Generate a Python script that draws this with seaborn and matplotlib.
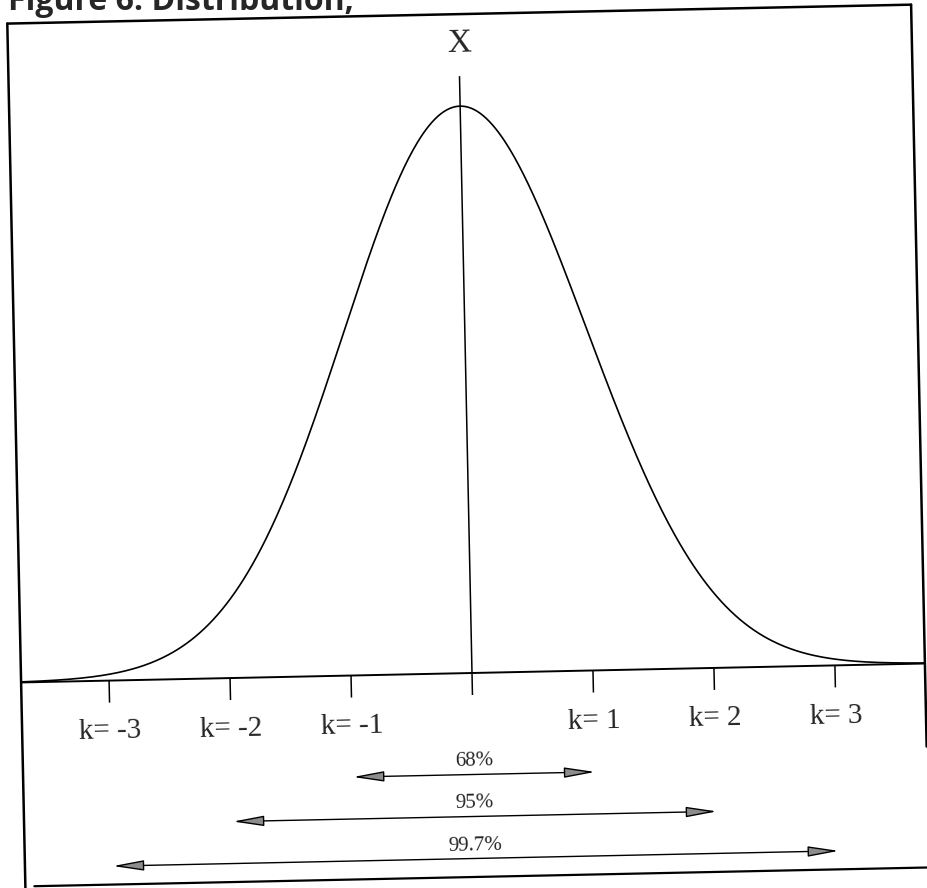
import numpy as np
import matplotlib
matplotlib.use("Agg")
import matplotlib.pyplot as plt
from matplotlib.transforms import Affine2D
import seaborn as sns

# --- chart content ---
mean = 0.0
sd = 1.0
k_values = [-3, -2, -1, 1, 2, 3]
k_labels = ["k= -3", "k= -2", "k= -1", "k= 1", "k= 2", "k= 3"]
interval_k = [1, 2, 3]
interval_labels = ["68%", "95%", "99.7%"]
center_label = "X"
title = "Figure 6: Distribution,"

# --- page geometry (pixels of the scanned page) ---
W, H, DPI = 927, 888, 100
SIGMA_PX = 121          # pixels per k step
BASE_X, BASE_Y = 472, 673   # the mean on the baseline, image coords
PEAK_PX = 567           # curve height above the baseline
TILT = 1.2              # the scan is a little rotated


def normal_pdf(x):
    return np.exp(-0.5 * ((x - mean) / sd) ** 2) / (sd * np.sqrt(2 * np.pi))


yscale = normal_pdf(mean) / PEAK_PX


def py(px):
    # pixels above the baseline -> data units
    return px * yscale


def kx(px):
    # image x pixel -> data units
    return (px - BASE_X) / SIGMA_PX


sns.set_style("white")
plt.rcParams["font.family"] = ["Liberation Serif", "DejaVu Serif"]

fig = plt.figure(figsize=(W / DPI, H / DPI), dpi=DPI)
ax = fig.add_axes([0, 0, 1, 1])
ax.set_xlim(kx(0), kx(W))
ax.set_ylim(py(-(H - BASE_Y)), py(BASE_Y))
ax.axis("off")

tr = ax.transData + Affine2D().rotate_deg_around(BASE_X, H - BASE_Y, TILT)

# bell curve
xs = np.linspace(kx(21), kx(925), 600)
sns.lineplot(x=xs, y=normal_pdf(xs), color="black", lw=1.2, estimator=None, ax=ax)
for line in ax.lines:
    line.set_transform(tr)
    line.set_clip_on(False)

# baseline, ticks and centre line
ax.plot([kx(21), kx(925)], [0, 0], color="black", lw=1.4, transform=tr)
ax.vlines(k_values, py(-22), 0, colors="black", lw=1.1, transform=tr)
ax.vlines([mean], py(-22), py(597), colors="black", lw=1.1, transform=tr)

ax.text(mean, py(630), center_label, ha="center", va="center", fontsize=24,
        transform=tr, rotation=TILT, rotation_mode="anchor")

for k, lab in zip(k_values, k_labels):
    ax.text(k, py(-58), lab, ha="center", va="baseline", fontsize=21,
            transform=tr, rotation=TILT, rotation_mode="anchor")

# coverage arrows
for i, (k, lab) in enumerate(zip(interval_k, interval_labels)):
    ay = py(-101.5 - 42 * i)
    ax.annotate("", xy=(k, ay), xytext=(-k, ay), xycoords=tr, textcoords=tr,
                arrowprops=dict(arrowstyle="<|-|>,head_length=1.9,head_width=0.32",
                                mutation_scale=10, shrinkA=0, shrinkB=0,
                                fc="#8c8c8c", ec="black", lw=1.0))
    ax.text(mean, ay + py(8.5), lab, ha="center", va="baseline", fontsize=15,
            transform=tr, rotation=TILT, rotation_mode="anchor")

# page frame
top, right_end, bottom = py(659), py(-83), py(-204)
ax.plot([kx(21), kx(21)], [py(-230), top], color="black", lw=1.8, transform=tr)
ax.plot([kx(21), kx(925)], [top, top], color="black", lw=1.8, transform=tr)
ax.plot([kx(925), kx(925)], [top, right_end], color="black", lw=1.8, transform=tr)
ax.plot([kx(30), kx(960)], [bottom, bottom], color="black", lw=1.6, transform=tr)

# caption of the page, cut by the top edge of the scan as in the original
fig.text(8 / W, 1 - 10 / H, title, ha="left", va="baseline", fontsize=23,
         fontweight="bold", family=["Open Sans", "DejaVu Sans"])

fig.savefig("out.png", dpi=DPI)
plt.close(fig)
